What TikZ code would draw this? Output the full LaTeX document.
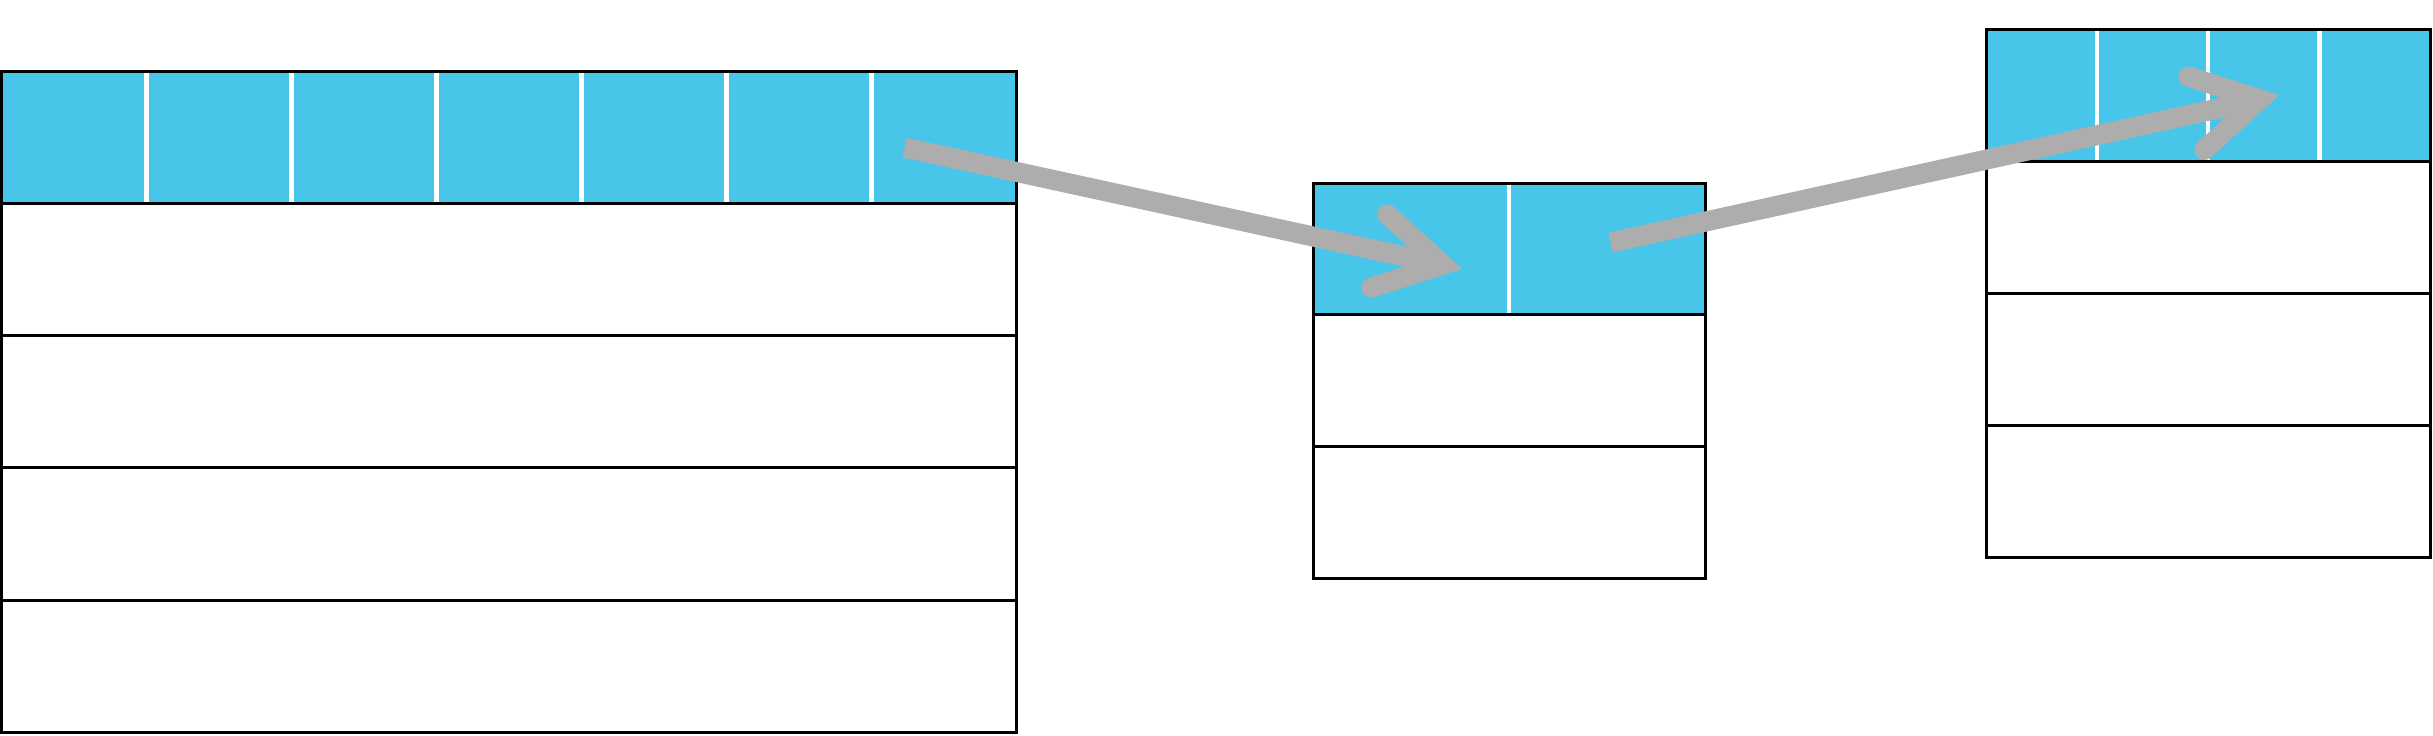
\documentclass[tikz,border=0pt]{standalone}
\usetikzlibrary{calc}
\definecolor{hdrblue}{RGB}{72,198,234}
\definecolor{arrowgray}{RGB}{173,173,173}
\begin{document}
\begin{tikzpicture}[x=0.01cm,y=-0.01cm,
  cell/.style={draw=black, line width=0.85pt, inner sep=0pt, outer sep=0pt, anchor=north west, fill=white},
  hdr/.style={cell, fill=hdrblue},
  divider/.style={draw=white, line width=1.3pt, shorten >=0.45pt, shorten <=0.45pt},
  shaft/.style={draw=arrowgray, line width=0.2cm, line cap=butt},
  chevron/.style={draw=arrowgray, line width=0.2cm, line cap=round, line join=miter, miter limit=10}]
\useasboundingbox (0,0) rectangle (2433,735);
% left table
\node[hdr, minimum width=10.145cm, minimum height=1.322cm] (A0) at (1.5,71) {};
\node[cell, minimum width=10.145cm, minimum height=1.322cm] (A1) at (A0.south west) {};
\node[cell, minimum width=10.145cm, minimum height=1.322cm] (A2) at (A1.south west) {};
\node[cell, minimum width=10.145cm, minimum height=1.322cm] (A3) at (A2.south west) {};
\node[cell, minimum width=10.145cm, minimum height=1.322cm] (A4) at (A3.south west) {};
\foreach \k in {1,...,6}
  \draw[divider] ($(A0.north west)!\k/7!(A0.north east)$) -- ($(A0.south west)!\k/7!(A0.south east)$);
% middle table
\node[hdr, minimum width=3.92cm, minimum height=1.317cm] (B0) at (1313,183) {};
\node[cell, minimum width=3.92cm, minimum height=1.317cm] (B1) at (B0.south west) {};
\node[cell, minimum width=3.92cm, minimum height=1.317cm] (B2) at (B1.south west) {};
\draw[divider] (B0.north) -- (B0.south);
% right table
\node[hdr, minimum width=4.44cm, minimum height=1.32cm] (C0) at (1986,29) {};
\node[cell, minimum width=4.44cm, minimum height=1.32cm] (C1) at (C0.south west) {};
\node[cell, minimum width=4.44cm, minimum height=1.32cm] (C2) at (C1.south west) {};
\node[cell, minimum width=4.44cm, minimum height=1.32cm] (C3) at (C2.south west) {};
\foreach \k in {1,...,3}
  \draw[divider] ($(C0.north west)!\k/4!(C0.north east)$) -- ($(C0.south west)!\k/4!(C0.south east)$);
% pointers
\coordinate (p1s) at (904.5,147.5);
\coordinate (p1e) at (1462.3,269);
\coordinate (p2s) at (1610.5,242.5);
\coordinate (p2e) at (2279.3,95);
\coordinate (p1v) at ($(p1e)!0.2cm!(p1s)$);
\coordinate (p2v) at ($(p2e)!0.2cm!(p2s)$);
\draw[shaft] (p1s) -- (p1v);
\draw[chevron] ($(p1v)!0.75cm!30:(p1s)$) -- (p1v) -- ($(p1v)!0.75cm!-30:(p1s)$);
\draw[shaft] (p2s) -- (p2v);
\draw[chevron] ($(p2v)!0.75cm!30:(p2s)$) -- (p2v) -- ($(p2v)!0.75cm!-30:(p2s)$);
\end{tikzpicture}
\end{document}
